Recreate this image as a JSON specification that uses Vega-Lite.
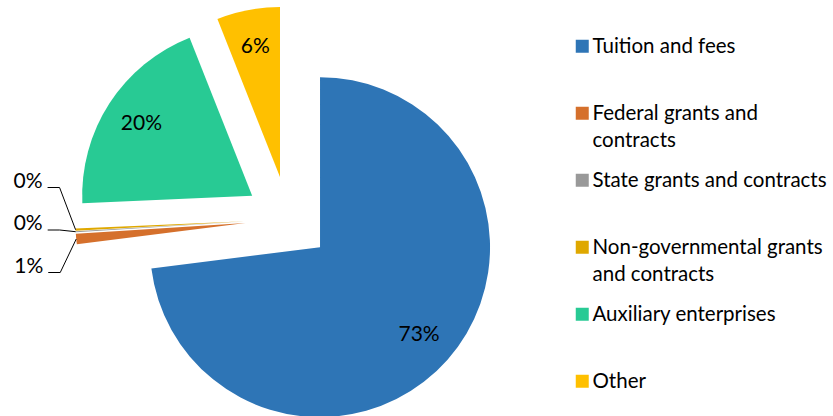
{
  "$schema": "https://vega.github.io/schema/vega-lite/v6.json",
  "width": 576,
  "height": 416,
  "padding": 0,
  "config": {"view": {"stroke": null}, "font": "Lato"},
  "data": {
    "values": [
      {"cat": "Tuition and fees", "value": 73.0, "idx": 0},
      {"cat": "Federal grants and contracts", "value": 1.0, "idx": 1},
      {"cat": "State grants and contracts", "value": 0.1, "idx": 2},
      {"cat": "Non-governmental grants and contracts", "value": 0.2, "idx": 3},
      {"cat": "Auxiliary enterprises", "value": 19.7, "idx": 4},
      {"cat": "Other", "value": 6.0, "idx": 5}
    ]
  },
  "transform": [
    {"window": [{"op": "sum", "field": "value", "as": "cum"}], "sort": [{"field": "idx"}], "frame": [null, 0]},
    {"calculate": "datum.cum - datum.value", "as": "start"},
    {"calculate": "2*PI*(datum.cum - datum.value/2)/100", "as": "ang"},
    {"calculate": "42.7*sin(datum.ang)", "as": "ex"},
    {"calculate": "42.7*cos(datum.ang)", "as": "ey"},
    {"calculate": "174.7*sin(datum.ang)", "as": "lx"},
    {"calculate": "174.7*cos(datum.ang)", "as": "ly"},
    {"calculate": "212.7*sin(datum.ang)", "as": "tx"},
    {"calculate": "212.7*cos(datum.ang)", "as": "ty"},
    {"calculate": "datum.tx - 28", "as": "hx1"},
    {"calculate": "datum.tx - 16", "as": "hx2"},
    {"calculate": "datum.tx - 33", "as": "sx"},
    {"calculate": "(datum.idx - 2)*42.5 - 11", "as": "py"},
    {"calculate": "datum.py + 6", "as": "sy"},
    {"calculate": "format(datum.value/100, '.0%')", "as": "lbl"}
  ],
  "layer": [
    {
      "mark": {"type": "arc", "outerRadius": 170},
      "encoding": {
        "theta": {"field": "start", "type": "quantitative", "scale": {"domain": [0, 100]}},
        "theta2": {"field": "cum"},
        "x": {"field": "ex", "type": "quantitative", "scale": {"domain": [-288, 288], "nice": false, "zero": false}, "axis": null},
        "y": {"field": "ey", "type": "quantitative", "scale": {"domain": [-197, 219], "nice": false, "zero": false}, "axis": null},
        "color": {
          "field": "cat",
          "type": "nominal",
          "scale": {
            "domain": ["Tuition and fees", "Federal grants and contracts", "State grants and contracts", "Non-governmental grants and contracts", "Auxiliary enterprises", "Other"],
            "range": ["#2E75B6", "#D5702C", "#999999", "#DFA800", "#28CA94", "#FFC000"]
          },
          "legend": {
            "orient": "none",
            "legendX": 572,
            "legendY": 36,
            "direction": "vertical",
            "title": null,
            "padding": 0,
            "symbolType": "square",
            "symbolSize": 169,
            "symbolStrokeWidth": 0,
            "labelFont": "Lato",
            "labelFontSize": 20.5,
            "labelColor": "black",
            "labelLimit": 0,
            "labelOffset": 0,
            "gridAlign": "all",
            "rowPadding": 18,
            "labelBaseline": "alphabetic",
            "labelExpr": "datum.label == 'Federal grants and contracts' ? ['Federal grants and', 'contracts'] : datum.label == 'Non-governmental grants and contracts' ? ['Non-governmental grants', 'and contracts'] : datum.label",
            "encode": {"labels": {"update": {"dy": {"value": 7}, "lineHeight": {"value": 27}}}}
          }
        }
      }
    },
    {
      "transform": [{"filter": "datum.value >= 2"}],
      "mark": {"type": "text", "fontSize": 21, "font": "Lato", "color": "black"},
      "encoding": {
        "x": {"field": "lx", "type": "quantitative", "scale": {"domain": [-288, 288], "nice": false, "zero": false}, "axis": null},
        "y": {"field": "ly", "type": "quantitative", "scale": {"domain": [-197, 219], "nice": false, "zero": false}, "axis": null},
        "text": {"field": "lbl"}
      }
    },
    {
      "transform": [{"filter": "datum.value < 2"}],
      "mark": {"type": "rule", "color": "black", "strokeWidth": 1},
      "encoding": {
        "x": {"field": "hx1", "type": "quantitative", "scale": {"domain": [-288, 288], "nice": false, "zero": false}, "axis": null},
        "x2": {"field": "hx2"},
        "y": {"field": "py", "type": "quantitative", "scale": {"domain": [-197, 219], "nice": false, "zero": false}, "axis": null}
      }
    },
    {
      "transform": [{"filter": "datum.value < 2"}],
      "mark": {"type": "rule", "color": "black", "strokeWidth": 1},
      "encoding": {
        "x": {"field": "hx2", "type": "quantitative", "scale": {"domain": [-288, 288], "nice": false, "zero": false}, "axis": null},
        "x2": {"field": "tx"},
        "y": {"field": "py", "type": "quantitative", "scale": {"domain": [-197, 219], "nice": false, "zero": false}, "axis": null},
        "y2": {"field": "ty"}
      }
    },
    {
      "transform": [{"filter": "datum.value < 2"}],
      "mark": {"type": "text", "fontSize": 21, "font": "Lato", "color": "black", "align": "right", "baseline": "middle"},
      "encoding": {
        "x": {"field": "sx", "type": "quantitative", "scale": {"domain": [-288, 288], "nice": false, "zero": false}, "axis": null},
        "y": {"field": "sy", "type": "quantitative", "scale": {"domain": [-197, 219], "nice": false, "zero": false}, "axis": null},
        "text": {"field": "lbl"}
      }
    }
  ]
}
